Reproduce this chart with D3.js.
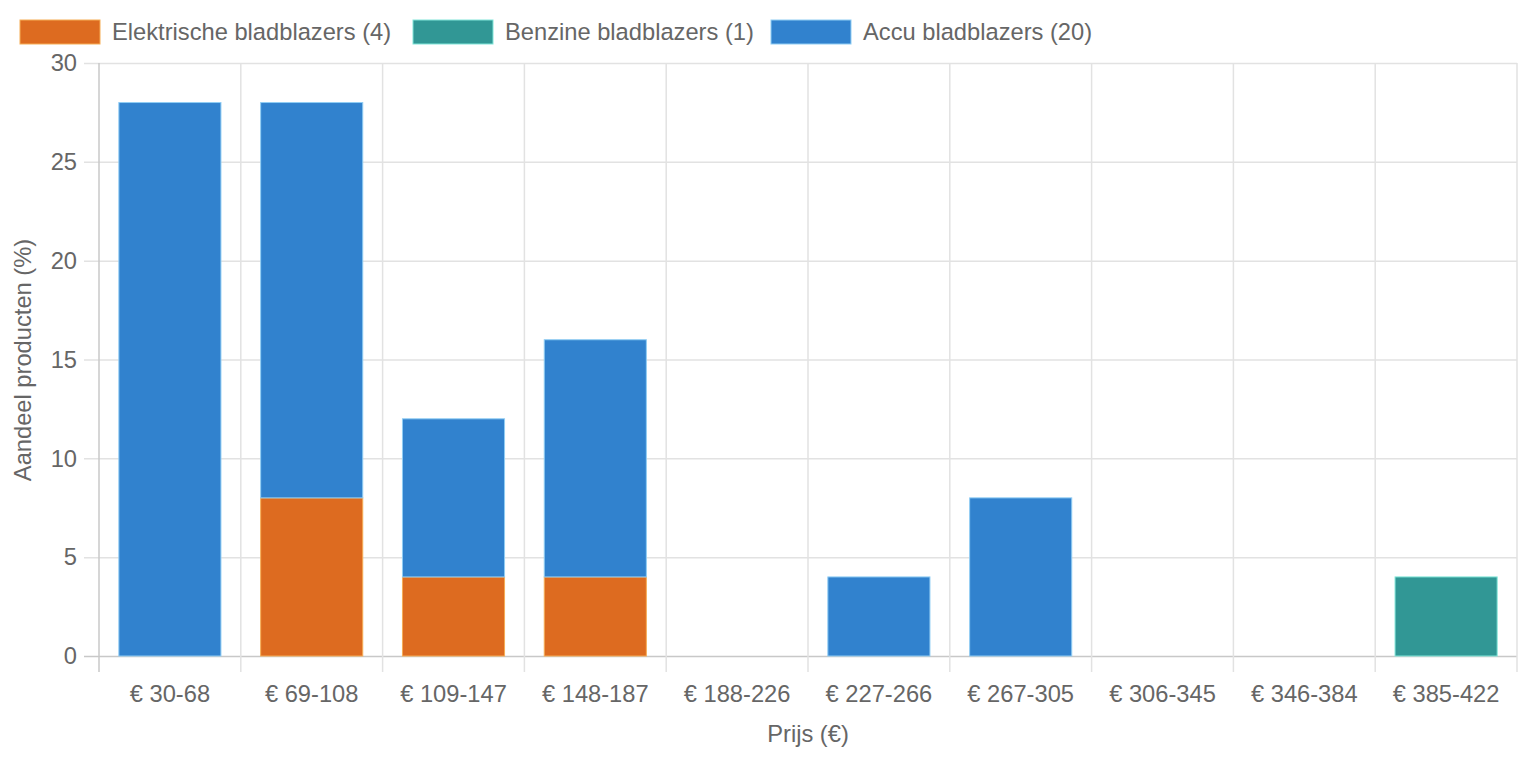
<!DOCTYPE html>
<html><head><meta charset="utf-8">
<script src="https://cdn.jsdelivr.net/npm/d3@7"></script>
<style>body{margin:0;background:#fff}svg{display:block}text{font-family:"Helvetica Neue",Helvetica,"Liberation Sans",Arial,sans-serif;fill:#666}</style>
</head><body><svg id="c" width="1518" height="758"></svg>
<script>
const categories = ["€ 30-68","€ 69-108","€ 109-147","€ 148-187","€ 188-226","€ 227-266","€ 267-305","€ 306-345","€ 346-384","€ 385-422"];
const seriesNames = ["Elektrische bladblazers (4)","Benzine bladblazers (1)","Accu bladblazers (20)"];
const elektrisch = [0,8,4,4,0,0,0,0,0,0];
const benzine = [0,0,0,0,0,0,0,0,0,4];
const accu = [28,20,8,12,0,4,8,0,0,0];
const yTicks = [0,5,10,15,20,25,30];
const colors = ["#DD6B20","#319795","#3182CE"];
const borders = ["#F6AD55","#81E6D9","#90CDF4"];

const svg = d3.select("#c");
const m = {l:99, r:1517, t:63, b:656};
const x = d3.scaleBand().domain(categories).range([m.l, m.r]).paddingInner(0).paddingOuter(0);
const y = d3.scaleLinear().domain([0,30]).range([m.b, m.t]);

// grid
const g = svg.append("g");
g.selectAll(".hg").data(yTicks).join("line")
  .attr("x1", m.l-15).attr("x2", m.r).attr("y1", d=>y(d)+0.5).attr("y2", d=>y(d)+0.5)
  .attr("stroke", d=> d===0 ? "#c8c8c8" : "#e2e2e2").attr("stroke-width",1.5);
const vx = categories.map(c=>x(c)).concat([m.r]);
g.selectAll(".vg").data(vx).join("line")
  .attr("x1", d=>d).attr("x2", d=>d).attr("y1", m.t).attr("y2", m.b+16)
  .attr("stroke", (d,i)=> i===0 ? "#c8c8c8" : "#e2e2e2").attr("stroke-width",1.5);

// stacked bars
const rows = categories.map((c,i)=>({cat:c, e:elektrisch[i], b:benzine[i], a:accu[i]}));
const stack = d3.stack().keys(["e","b","a"])(rows);
const bw = x.bandwidth()*0.72;
stack.forEach((s,si)=>{
  svg.append("g").selectAll("rect").data(s.filter(d=>d[1]-d[0]>0)).join("rect")
    .attr("x", d=>x(d.data.cat)+(x.bandwidth()-bw)/2)
    .attr("width", bw)
    .attr("y", d=>y(d[1]))
    .attr("height", d=>y(d[0])-y(d[1]))
    .attr("fill", colors[si])
    .attr("stroke", borders[si]).attr("stroke-width",1);
});

const fs = "23.7px";
// y tick labels
svg.append("g").selectAll("text").data(yTicks).join("text")
  .attr("x", 77).attr("y", d=>y(d)).attr("dy","0.35em").attr("text-anchor","end")
  .style("font-size",fs).text(d=>d);
// x tick labels
svg.append("g").selectAll("text").data(categories).join("text")
  .attr("x", d=>x(d)+x.bandwidth()/2).attr("y", 702).attr("text-anchor","middle")
  .style("font-size",fs).text(d=>d);
// axis titles
svg.append("text").attr("x", (m.l+m.r)/2).attr("y", 742).attr("text-anchor","middle")
  .style("font-size",fs).text("Prijs (€)");
svg.append("text").attr("transform","translate(31,360) rotate(-90)").attr("text-anchor","middle")
  .style("font-size",fs).text("Aandeel producten (%)");

// legend
const legX = [20, 413, 771];
const lg = svg.append("g");
seriesNames.forEach((n,i)=>{
  lg.append("rect").attr("x",legX[i]).attr("y",20).attr("width",80).attr("height",24)
    .attr("fill",colors[i]).attr("stroke",borders[i]).attr("stroke-width",1);
  lg.append("text").attr("x",legX[i]+92).attr("y",32).attr("dy","0.35em")
    .style("font-size",fs).text(n);
});
</script></body></html>
